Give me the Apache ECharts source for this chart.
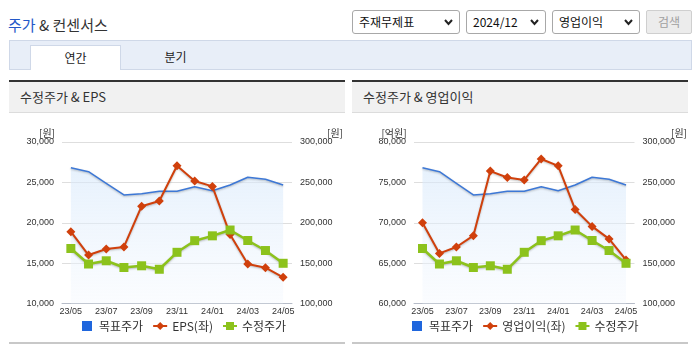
<!DOCTYPE html>
<html><head><meta charset="utf-8">
<script src="https://cdn.jsdelivr.net/npm/echarts@6/dist/echarts.min.js"></script>
<style>
html,body{margin:0;padding:0;background:#fff;}
body{width:695px;height:349px;position:relative;overflow:hidden;font-family:"Noto Sans CJK KR","Noto Sans",sans-serif;color:#333;}
.abs{position:absolute;}
#title{left:8px;top:14px;font-size:15px;line-height:21px;color:#333;}
.sel{position:absolute;top:10px;height:24px;box-sizing:border-box;border:1px solid #a8a8a8;border-radius:3px;background:#fff;font-size:12px;line-height:22px;padding-left:6px;color:#111;}
.sel svg{position:absolute;right:6px;top:8px;}
#btn{position:absolute;left:646px;top:10px;width:46px;height:24px;box-sizing:border-box;border:1px solid #cfcfcf;border-radius:2px;background:#ececec;color:#a0a0a0;font-size:12px;line-height:22px;text-align:center;}
#tabbar{left:9px;top:40px;width:683px;height:30px;box-sizing:border-box;background:#e8eef8;border:1px solid #cfd8e8;}
#tab1{left:30px;top:45px;width:91px;height:25px;box-sizing:border-box;background:#fff;border:1px solid #cfd8e8;border-bottom:none;font-size:12px;line-height:24px;text-align:center;color:#222;}
#tab2{left:130px;top:45px;width:91px;height:25px;font-size:12px;line-height:24px;text-align:center;color:#222;}
.panel{position:absolute;top:80px;width:336px;height:264px;box-sizing:border-box;border-top:2px solid #333;border-bottom:2px solid #c8c8c8;}
.phead{position:absolute;left:0;top:0;width:100%;height:31px;box-sizing:border-box;background:#f1f1f1;border-bottom:1px solid #dcdcdc;font-size:13px;line-height:30px;padding-left:11px;color:#333;}
#chart{position:absolute;left:0;top:0;width:695px;height:349px;}
</style></head>
<body>
<div id="title" class="abs"><span style="color:#2458c8">주가</span> &amp; 컨센서스</div>
<div class="sel" style="left:352px;width:108px;">주재무제표<svg width="9" height="7"><polyline points="1,1 4.5,5 8,1" fill="none" stroke="#222" stroke-width="2"/></svg></div>
<div class="sel" style="left:466px;width:80px;">2024/12<svg width="9" height="7"><polyline points="1,1 4.5,5 8,1" fill="none" stroke="#222" stroke-width="2"/></svg></div>
<div class="sel" style="left:552px;width:88px;">영업이익<svg width="9" height="7"><polyline points="1,1 4.5,5 8,1" fill="none" stroke="#222" stroke-width="2"/></svg></div>
<div id="btn">검색</div>
<div id="tabbar" class="abs"></div>
<div id="tab1" class="abs">연간</div>
<div id="tab2" class="abs">분기</div>
<div class="panel" style="left:9px;"><div class="phead">수정주가 &amp; EPS</div></div>
<div class="panel" style="left:352px;"><div class="phead">수정주가 &amp; 영업이익</div></div>
<div id="chart"></div>
<script>
// ---- data ----
const categories = ['23/05','23/06','23/07','23/08','23/09','23/10','23/11','23/12','24/01','24/02','24/03','24/04','24/05'];
const targetPrice = [268200, 263200, 248900, 234400, 236000, 238900, 238900, 244600, 239700, 246700, 256300, 253800, 246700];
const adjPrice = [168100, 148900, 152900, 144600, 146700, 142400, 163400, 177800, 183800, 191000, 178000, 165600, 149800];
const eps = [18900, 16000, 16750, 17000, 22050, 22700, 27050, 25170, 24500, 18550, 14900, 14430, 13250];
const opProfit = [70000, 66200, 67000, 68400, 76400, 75600, 75300, 77900, 77050, 71650, 69550, 68000, 65400];
const leftEpsAxis = {min: 10000, max: 30000, interval: 5000};
const leftOpAxis = {min: 60000, max: 80000, interval: 5000};
const priceAxis = {min: 100000, max: 300000, interval: 50000};

const chart = echarts.init(document.getElementById('chart'), null, {renderer: 'canvas'});
const numFont = 'Liberation Sans';
const fmt = v => Number(v).toLocaleString('en-US');
const C_BLUE = '#3d78d6', C_RED = '#d0400c', C_GREEN = '#8cc21c';
const shadow = {shadowColor: 'rgba(0,0,0,0.25)', shadowBlur: 2, shadowOffsetY: 1};

function xAx(gi) {
  return {type: 'category', gridIndex: gi, data: categories, boundaryGap: true,
    axisLine: {lineStyle: {color: '#b6bcc8'}},
    axisTick: {interval: 1, length: 5, lineStyle: {color: '#b6bcc8'}},
    axisLabel: {interval: 1, fontSize: 9, fontFamily: numFont, color: '#333', margin: 4}};
}
function yAx(gi, pos, ax, split) {
  return {type: 'value', gridIndex: gi, position: pos, min: ax.min, max: ax.max, interval: ax.interval,
    axisLine: {show: false}, axisTick: {show: false},
    splitLine: {show: split, lineStyle: {color: '#dedede'}},
    axisLabel: {fontSize: 9, fontFamily: numFont, color: '#333', margin: 8, formatter: fmt}};
}
const area = {color: new echarts.graphic.LinearGradient(0, 0, 0, 1, [
  {offset: 0, color: 'rgba(214,232,251,0.85)'}, {offset: 1, color: 'rgba(244,248,254,0.6)'}])};

function targetSeries(xi, yi) {
  return {name: '목표주가', type: 'line', xAxisIndex: xi, yAxisIndex: yi, data: targetPrice,
    symbol: 'none', color: C_BLUE, lineStyle: Object.assign({width: 1.5, color: C_BLUE}, shadow), areaStyle: area, z: 1};
}
function redSeries(name, data, xi, yi) {
  return {name: name, type: 'line', xAxisIndex: xi, yAxisIndex: yi, data: data, color: C_RED,
    symbol: 'diamond', symbolSize: 9, itemStyle: {color: C_RED, borderWidth: 0},
    lineStyle: Object.assign({width: 2, color: C_RED}, shadow), z: 3};
}
function greenSeries(xi, yi) {
  return {name: '수정주가', type: 'line', xAxisIndex: xi, yAxisIndex: yi, data: adjPrice, color: C_GREEN,
    symbol: 'rect', symbolSize: 9, itemStyle: {color: C_GREEN, borderWidth: 0},
    lineStyle: Object.assign({width: 2.5, color: C_GREEN}, shadow), z: 4};
}
const sq = 'path://M0,0L10,0L10,10L0,10Z';
function legend(left, redName) {
  return {left: left, top: 320, padding: 0, itemGap: 9, itemWidth: 14, itemHeight: 10,
    textStyle: {fontSize: 12, color: '#333', fontFamily: 'Noto Sans CJK KR'},
    data: [{name: '목표주가', icon: sq, itemStyle: {color: '#1f66dd'}}, redName, '수정주가']};
}
function lbl(x, y, t) {
  return {type: 'text', x: x, y: y, style: {text: t, align: 'center', verticalAlign: 'middle',
    font: '10px "Noto Sans CJK KR"', fill: '#333'}};
}

chart.setOption({
  animation: false,
  backgroundColor: 'transparent',
  grid: [{left: 62, top: 142, width: 230, height: 161.5}, {left: 414, top: 142, width: 220.5, height: 161.5}],
  xAxis: [xAx(0), xAx(1)],
  yAxis: [yAx(0, 'left', leftEpsAxis, true), yAx(0, 'right', priceAxis, false),
          yAx(1, 'left', leftOpAxis, true), yAx(1, 'right', priceAxis, false)],
  legend: [legend(82, 'EPS(좌)'), legend(412, '영업이익(좌)')],
  series: [targetSeries(0, 1), redSeries('EPS(좌)', eps, 0, 0), greenSeries(0, 1),
           targetSeries(1, 3), redSeries('영업이익(좌)', opProfit, 1, 2), greenSeries(1, 3)],
  graphic: [lbl(47, 133, '[원]'), lbl(335, 133, '[원]'), lbl(394, 133, '[억원]'), lbl(679, 133, '[원]')]
});
</script>
</body></html>
